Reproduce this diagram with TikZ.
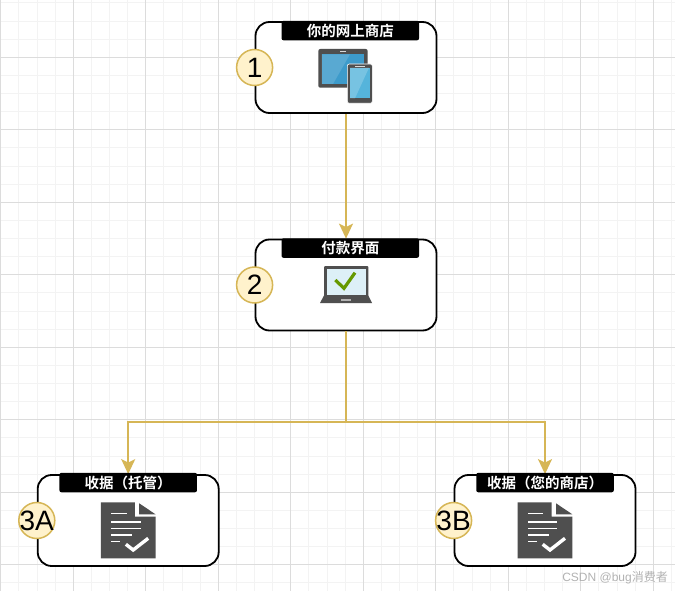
\documentclass[tikz,border=0pt]{standalone}
\usepackage{fontspec}
\setmainfont{Liberation Sans}
\newfontfamily\cjkfont{Noto Sans CJK SC}[BoldFont={* Bold}]
\usetikzlibrary{arrows.meta, positioning, calc}
\definecolor{cGold}{HTML}{D6B656}
\definecolor{cCream}{HTML}{FFF2CC}
\definecolor{cIcon}{HTML}{4F4F4F}
\definecolor{cMajor}{HTML}{DCDCDC}
\definecolor{cMinor}{HTML}{F3F3F3}
\definecolor{cTablet}{HTML}{3D9BCB}
\definecolor{cPhone}{HTML}{55B4DB}
\definecolor{cLaptop}{HTML}{DDF0F7}
\definecolor{cCheck}{HTML}{669900}
\tikzset{
	card/.style   ={rectangle, draw=black, line width=1.8pt, rounded corners=14pt, fill=white, minimum width=181pt, minimum height=91pt, inner sep=0pt},
	header/.style ={rectangle, fill=black, text=white, rounded corners=2pt, minimum width=137.5pt, minimum height=19.5pt, inner sep=0pt, font=\cjkfont\bfseries\fontsize{14.5}{16}\selectfont},
	badge/.style  ={circle, draw=cGold, line width=1.5pt, fill=cCream, minimum size=36pt, inner sep=-4pt, font=\fontsize{28}{30}\selectfont},
	flow/.style   ={-{Stealth[length=15pt, width=14pt, inset=3.5pt]}, draw=cGold, line width=1.7pt},
	pics/docicon/.style={code={
		\fill[cIcon] (-27.3,28) -- (6.7,28) -- (6.7,13.7) -- (27.3,13.7) -- (27.3,-28) -- (-27.3,-28) -- cycle;
		\fill[cIcon] (11,27) -- (27.3,16) -- (11,16) -- cycle;
		\draw[white, line width=1.3pt] (-17,16.6) -- (-1.6,16.6) (-17,8.3) -- (12.4,8.3) (-17,1.6) -- (12.4,1.6) (-17,-4.7) -- (3.7,-4.7) (-17,-11.4) -- (-8.3,-11.4);
		\draw[white, line width=3.4pt] (-2.3,-14) -- (5,-19.7) -- (20,-8);
	}},
}
\begin{document}
\begin{tikzpicture}[x=1pt, y=1pt]
	\path[use as bounding box, fill=white] (0,0) rectangle (675,-591);
	% background grid
	\foreach \k in {0,...,37} \draw[cMinor, line width=0.9pt] ({0.8+18.125*\k},0) -- ({0.8+18.125*\k},-591);
	\foreach \k in {0,...,33} \draw[cMinor, line width=0.9pt] (0,{-2.9-18.125*\k}) -- (675,{-2.9-18.125*\k});
	\foreach \k in {0,...,9} \draw[cMajor, line width=0.9pt] ({0.8+72.5*\k},0) -- ({0.8+72.5*\k},-591);
	\foreach \k in {0,...,8} \draw[cMajor, line width=0.9pt] (0,{-57.3-72.5*\k}) -- (675,{-57.3-72.5*\k});
	% cards
	\node[card] (shop) at (346,-67.5) {};
	\node[card, below=124.7pt of shop] (pay) {};
	\node[card] (escrow) at (128.2,-520.5) {};
	\node[card, right=234pt of escrow] (own) {};
	\coordinate (split) at ($(pay.south)+(0,-90.6)$);
	\draw[flow] (shop.south) -- (pay.north);
	\draw[flow] (pay.south) -- (split) -| (escrow.north);
	\draw[flow] (split) -| (own.north);
	% headers
	\node[header, below=-0.5pt of shop.north, xshift=4.3pt] (shoptitle) {你的网上商店};
	\node[header, below=-0.5pt of pay.north, xshift=4.3pt] (paytitle) {付款界面};
	\node[header, below=-1.5pt of escrow.north] (escrowtitle) {收据（托管）};
	\node[header, below=-1.5pt of own.north] (owntitle) {收据（您的商店）};
	% badges
	\node[badge] (one) at (shop.west) {1};
	\node[badge] (two) at (pay.west) {2};
	\node[badge] (threea) at (escrow.west) {3A};
	\node[badge] (threeb) at (own.west) {3B};
	% tablet and phone
	\fill[cIcon, rounded corners=2pt] (318.3,-49) rectangle (367.7,-87.7);
	\fill[white!85!black] (340,-51) rectangle (346,-52.3);
	\fill[cTablet] (321.7,-54.3) rectangle (364.3,-84);
	\fill[white, opacity=0.15] (321.7,-54.3) -- (350,-54.3) -- (333,-84) -- (321.7,-84) -- cycle;
	\fill[cIcon, rounded corners=2pt, draw=white, line width=0.6pt] (347.3,-64) rectangle (372.3,-103.3);
	\fill[white!85!black] (355,-65.8) rectangle (364.5,-66.8);
	\fill[cPhone] (350,-67.7) rectangle (370,-98.3);
	\fill[white, opacity=0.2] (350,-67.7) -- (369,-67.7) -- (355,-98.3) -- (350,-98.3) -- cycle;
	% laptop
	\fill[cIcon, rounded corners=1pt] (324,-266) rectangle (368.3,-297);
	\fill[cLaptop] (326.7,-268.7) rectangle (365.7,-295);
	\fill[cIcon] (324,-295.5) -- (368.3,-295.5) -- (372,-303) -- (320,-303) -- cycle;
	\fill[black!30] (341,-298.5) rectangle (351,-300.5);
	\draw[cCheck, line width=3.2pt] (335.3,-280) -- (344,-288.3) -- (355,-272.7);
	% receipts
	\pic at ($(escrow.center)+(0,-9.8)$) {docicon};
	\pic at ($(own.center)+(0,-9.8)$) {docicon};
	% watermark
	\node[text=black!30, font=\fontsize{12}{14}\selectfont, anchor=east, inner sep=0pt] (mark) at (668,-578) {CSDN @bug{\cjkfont 消费者}};
\end{tikzpicture}
\end{document}
